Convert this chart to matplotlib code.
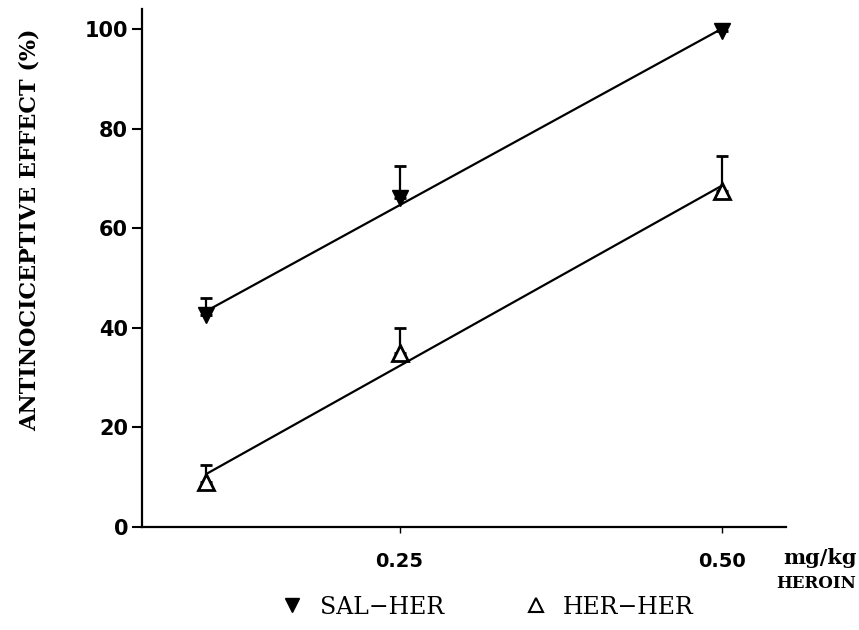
import matplotlib
matplotlib.use("Agg")
import matplotlib.pyplot as plt
import numpy as np
from matplotlib.lines import Line2D

# dose (mg/kg heroin)
dose = np.array([0.10, 0.25, 0.50])

# antinociceptive effect (%) and upper error (SEM)
sal_her = np.array([42.5, 66.0, 99.5])
sal_her_err = np.array([3.5, 6.5, 1.5])
her_her = np.array([9.0, 35.0, 67.5])
her_her_err = np.array([3.5, 5.0, 7.0])

yticks = [0, 20, 40, 60, 80, 100]
xticks = [0.25, 0.50]
xticklabels = ["0.25", "0.50"]

serif = "DejaVu Serif"
sans = "DejaVu Sans"

fig = plt.figure(figsize=(8.59, 6.3), dpi=100)
ax = fig.add_axes([142 / 859, 1 - 527 / 630, (786 - 142) / 859, (527 - 9) / 630])

# regression lines
for y in (sal_her, her_her):
    k, b = np.polyfit(dose, y, 1)
    xx = np.array([dose[0], dose[-1]])
    ax.plot(xx, k * xx + b, color="black", lw=1.6, zorder=2)

# error bars (upper only)
ax.errorbar(dose, sal_her, yerr=[np.zeros(3), sal_her_err], fmt="none",
            ecolor="black", elinewidth=1.6, capsize=4, capthick=2, zorder=3)
ax.errorbar(dose, her_her, yerr=[np.zeros(3), her_her_err], fmt="none",
            ecolor="black", elinewidth=1.6, capsize=4, capthick=2, zorder=3)

ax.plot(dose, sal_her, "v", color="black", ms=12, zorder=4)
ax.plot(dose, her_her, "^", mfc="white", mec="black", mew=2, ms=11, zorder=4)

ax.set_xlim(0.05, 0.55)
ax.set_ylim(0, 104)
ax.spines["top"].set_visible(False)
ax.spines["right"].set_visible(False)
ax.spines["left"].set_linewidth(1.6)
ax.spines["bottom"].set_linewidth(1.6)

ax.set_yticks(yticks)
ax.set_yticklabels([str(v) for v in yticks], fontfamily=sans,
                   fontweight="semibold", fontsize=15)
ax.set_xticks(xticks)
ax.set_xticklabels(xticklabels, fontfamily=sans, fontweight="semibold", fontsize=14)
ax.tick_params(axis="y", length=7, width=1.5, pad=3)
ax.tick_params(axis="x", length=4, width=1, pad=14)

ax.set_ylabel("ANTINOCICEPTIVE EFFECT (%)", fontfamily=serif,
              fontweight="bold", fontsize=16)
ax.yaxis.set_label_coords(-0.157, 0.573)

fig.text(820 / 859, 1 - 558 / 630, "mg/kg", ha="center", va="center",
         fontfamily=serif, fontweight="bold", fontsize=15)
fig.text(816 / 859, 1 - 584 / 630, "HEROIN", ha="center", va="center",
         fontfamily=serif, fontweight="bold", fontsize=12)

handles = [
    Line2D([], [], ls="none", marker="v", color="black", ms=10),
    Line2D([], [], ls="none", marker="^", mfc="white", mec="black", mew=1.5, ms=10),
]
fig.legend(handles, ["SAL\u2212HER", "HER\u2212HER"], loc="center",
           bbox_to_anchor=(486 / 859, 1 - 607 / 630), ncol=2, frameon=False,
           prop={"family": serif, "size": 17}, columnspacing=3.3,
           handletextpad=0.55, handlelength=1.2)

fig.savefig("out.png", dpi=100)
